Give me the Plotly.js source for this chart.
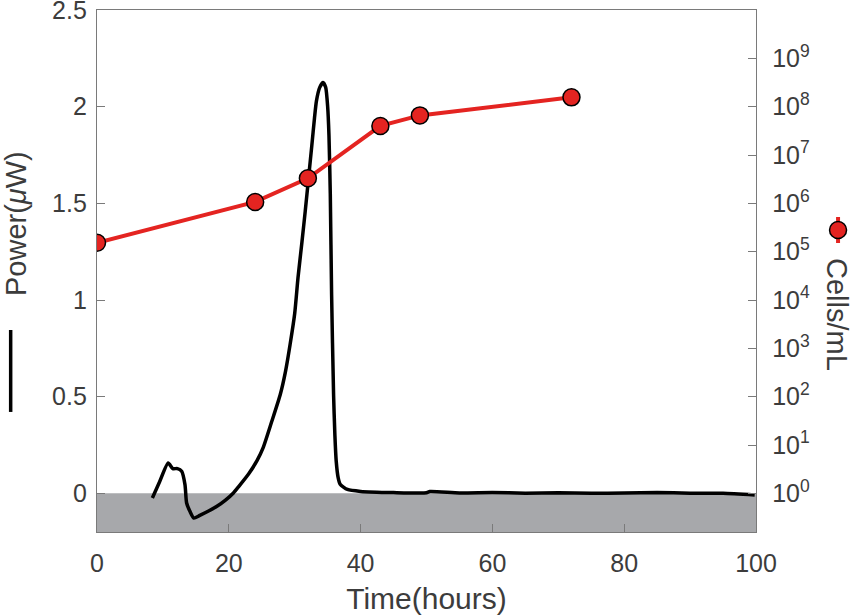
<!DOCTYPE html>
<html>
<head>
<meta charset="utf-8">
<script src="https://cdn.plot.ly/plotly-3.0.1.min.js"></script>
<style>
  body { margin: 0; background: #fff; }
  #chart { width: 851px; height: 616px; }
</style>
</head>
<body>
<div id="chart"></div>
<script>
// power trace (calorimeter), hours vs microwatts
var timeH = [8.4, 9.5, 10.8, 11.5, 12.2, 12.85, 13.35, 13.6, 14.1, 14.7, 15.6, 17, 18.2, 19.5, 20.7, 21.5,
    23, 24.3, 25.2, 26.5, 27.8, 28.6, 29.3, 30, 30.5, 31.1, 31.6, 32.1, 32.6, 33, 33.3, 33.8, 34.3, 34.7,
    35, 35.2, 35.4, 35.6, 35.9, 36.1, 36.3, 36.6, 36.9, 38, 40, 45, 50, 50.5, 55, 60, 65, 70, 75, 80,
    85, 90, 95, 99.8]
var powerUW = [-0.024, 0.06, 0.157, 0.128, 0.128, 0.114, 0.045, -0.05, -0.093, -0.128, -0.114, -0.09, -0.067, -0.035, 0.002, 0.035,
    0.1, 0.17, 0.235, 0.37, 0.51, 0.63, 0.77, 0.93, 1.115, 1.3, 1.46, 1.63, 1.8, 1.94, 2.03, 2.1, 2.125, 2.1,
    2.0, 1.85, 1.55, 1.03, 0.51, 0.3, 0.166, 0.08, 0.047, 0.02, 0.01, 0.004, 0.003, 0.009, 0.002, 0.004, 0.001, 0.003, 0.0, 0.002,
    0.004, 0.001, 0.0, -0.008]

// cell counts
var sampleH = [0, 24, 32, 43, 49, 72]
var cellsPerML = [1.53e5, 1.07e6, 3.3e6, 4.0e7, 6.6e7, 1.56e8]

var xTicks = [0, 20, 40, 60, 80, 100]
var yTicks = [0, 0.5, 1, 1.5, 2, 2.5]
var y2Ticks = [1, 10, 100, 1e3, 1e4, 1e5, 1e6, 1e7, 1e8, 1e9]
var y2Text = y2Ticks.map(function (v, i) { return '10<sup>' + i + '</sup>' })

//setting
var fontFam = 'Liberation Sans, Arial, sans-serif'
var tickColor = '#3c3c3c'
var axisColor = '#7a7a7a'
var redColor = '#e42421'
var tickSize = 25
var titleSize = 30

var data = [
    {
        x: timeH,
        y: powerUW,
        type: 'scatter',
        mode: 'lines',
        line: { color: '#000000', width: 3.5, shape: 'spline', smoothing: 0.6 },
        showlegend: false,
        hoverinfo: 'x+y'
    },
    {
        x: sampleH,
        y: cellsPerML,
        yaxis: 'y2',
        type: 'scatter',
        mode: 'lines+markers',
        line: { color: redColor, width: 4 },
        marker: { color: redColor, size: 17, line: { color: '#000000', width: 1.5 } },
        showlegend: false,
        hoverinfo: 'x+y'
    }
]

var layout = {
    width: 851,
    height: 616,
    margin: { l: 97, r: 95, t: 10, b: 84 },
    paper_bgcolor: '#ffffff',
    plot_bgcolor: '#ffffff',
    font: { family: fontFam, size: tickSize, color: tickColor },
    xaxis: {
        range: [0, 100],
        tickvals: xTicks,
        ticks: 'inside',
        ticklen: 8,
        tickcolor: axisColor,
        showline: true,
        mirror: true,
        linecolor: axisColor,
        linewidth: 1.2,
        showgrid: false,
        zeroline: false,
        tickfont: { size: tickSize, color: tickColor },
        ticklabelstandoff: 9,
        ticklabeloverflow: 'allow',
        title: { text: 'Time(hours)', font: { size: titleSize, color: tickColor }, standoff: 11 }
    },
    yaxis: {
        range: [-0.2, 2.5001],
        tickvals: yTicks,
        ticks: 'inside',
        ticklen: 8,
        tickcolor: axisColor,
        showline: true,
        linecolor: axisColor,
        linewidth: 1.2,
        showgrid: false,
        zeroline: false,
        tickfont: { size: tickSize, color: tickColor },
        ticklabelstandoff: 4,
        ticklabeloverflow: 'allow'
    },
    yaxis2: {
        type: 'log',
        overlaying: 'y',
        side: 'right',
        range: [-0.8, 10.0004],
        tickvals: y2Ticks,
        ticktext: y2Text,
        ticks: 'inside',
        ticklen: 8,
        tickcolor: axisColor,
        showline: true,
        linecolor: axisColor,
        linewidth: 1.2,
        showgrid: false,
        zeroline: false,
        tickfont: { size: tickSize, color: tickColor },
        ticklabelstandoff: 10,
        ticklabeloverflow: 'allow'
    },
    shapes: [
        // grey band below zero
        { type: 'rect', xref: 'paper', yref: 'y', x0: 0, x1: 1, y0: -0.2, y1: 0,
          fillcolor: '#a7a8ab', line: { width: 0 }, layer: 'below' },
        // legend glyph for power (black line)
        { type: 'line', xref: 'paper', yref: 'paper', x0: -0.131, x1: -0.131, y0: 0.23, y1: 0.387,
          line: { color: '#000000', width: 3.5 } },
        // legend glyph for cells (red line + marker)
        { type: 'line', xref: 'paper', yref: 'paper', x0: 1.1245, x1: 1.1245, y0: 0.5536, y1: 0.6034,
          line: { color: redColor, width: 4 } },
        { type: 'circle', xref: 'paper', yref: 'paper', xsizemode: 'pixel', ysizemode: 'pixel',
          xanchor: 1.1245, yanchor: 0.5785, x0: -8.5, x1: 8.5, y0: -8.5, y1: 8.5,
          fillcolor: redColor, line: { color: '#000000', width: 1.5 } }
    ],
    annotations: [
        { text: 'Power(<i>\u03bc</i>W)', xref: 'paper', yref: 'paper', x: -0.1229, y: 0.590,
          xanchor: 'center', yanchor: 'middle', textangle: -90, showarrow: false,
          font: { size: 29, color: tickColor } },
        { text: 'Cells/mL', xref: 'paper', yref: 'paper', x: 1.123, y: 0.4176,
          xanchor: 'center', yanchor: 'middle', textangle: 90, showarrow: false,
          font: { size: 29, color: tickColor } }
    ]
}

Plotly.newPlot('chart', data, layout, { displayModeBar: false, staticPlot: true })
</script>
</body>
</html>
